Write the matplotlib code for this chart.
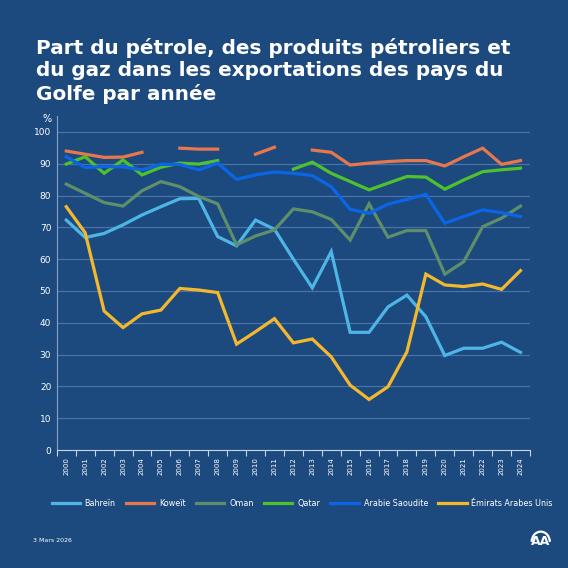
import matplotlib.pyplot as plt
import numpy as np
from matplotlib.patches import Arc

# données (en %)
annees = list(range(2000, 2025))
bahrein = [72.3, 66.8, 68.1, 70.8, 73.9, 76.5, 79.0, 79.1, 67.1, 64.2, 72.3, 69.4,
           60.0, 51.0, 62.4, 37.0, 37.0, 45.0, 48.7, 41.9, 29.7, 32.0, 32.0, 33.9, 30.7]
koweit = [94.0, 93.0, 92.0, 92.1, 93.6, None, 94.9, 94.6, 94.6, None, 93.0, 95.2,
          None, 94.3, 93.6, 89.6, 90.2, 90.7, 91.0, 91.0, 89.3, 92.2, 94.9, 89.8, 91.0]
oman = [83.6, 80.7, 77.8, 76.7, 81.5, 84.4, 82.8, 79.7, 77.4, 64.5, 67.3, 69.2,
        75.8, 74.9, 72.5, 66.0, 77.4, 66.9, 69.0, 69.0, 55.3, 59.2, 70.2, 72.9, 76.7]
qatar = [89.9, 92.2, 87.0, 91.2, 86.5, 88.9, 90.2, 89.9, 91.0, None, None, None,
         88.3, 90.5, 87.0, 84.4, 81.8, 83.9, 86.0, 85.8, 82.0, 84.9, 87.5, 88.1, 88.6]
arabie = [92.2, 88.8, 89.1, 89.0, 88.1, 89.8, 89.8, 88.1, 90.2, 85.1, 86.5, 87.4,
          87.0, 86.3, 82.8, 75.7, 74.4, 77.3, 78.8, 80.4, 71.3, 73.4, 75.5, 74.6, 73.4]
emirats = [76.5, 68.3, 43.7, 38.5, 42.8, 44.0, 50.8, 50.3, 49.5, 33.3, 37.2, 41.3,
           33.7, 34.9, 29.3, 20.4, 15.9, 19.9, 30.9, 55.3, 51.9, 51.4, 52.2, 50.5, 56.4]

series = [
    ("Bahreïn", bahrein, "#4db6e6"),
    ("Koweït", koweit, "#e8774b"),
    ("Oman", oman, "#5e8e6a"),
    ("Qatar", qatar, "#4ec12d"),
    ("Arabie Saoudite", arabie, "#0a66e6"),
    ("Émirats Arabes Unis", emirats, "#f4b82c"),
]

fond = "#1d4a7e"
grille = "#4a72a6"

fig = plt.figure(figsize=(5.68, 5.68), dpi=100, facecolor=fond)
ax = fig.add_axes([0.1, 0.2077, 0.833, 0.588])
ax.set_facecolor(fond)

x = np.arange(len(annees))
for nom, vals, couleur in series:
    y = np.array([np.nan if v is None else v for v in vals])
    ax.plot(x, y, color=couleur, lw=2.3, label=nom, solid_joinstyle="miter")

ax.set_xlim(-0.5, 24.5)
ax.set_ylim(0, 105)
ax.set_yticks(range(0, 101, 10))
ax.yaxis.grid(True, color=grille, lw=0.9)
ax.set_axisbelow(True)
for s in ["top", "right"]:
    ax.spines[s].set_visible(False)
ax.spines["left"].set_color("#8aa3c4")
ax.spines["left"].set_linewidth(0.8)
ax.spines["bottom"].set_color("#c8d4e4")
ax.spines["bottom"].set_linewidth(0.8)

ax.tick_params(axis="y", length=0, pad=4, labelsize=6.5, labelcolor="white")
ax.set_xticks(x)
ax.set_xticklabels([str(a) for a in annees], rotation=90, fontsize=5,
                   color="white")
ax.tick_params(axis="x", length=0, pad=5)
ax.set_xticks(np.arange(-0.5, 25, 1), minor=True)
ax.tick_params(axis="x", which="minor", length=4, color="#c8d4e4", width=0.8)

fig.text(0.075, 0.785, "%", color="white", fontsize=7)

fig.text(0.063, 0.933,
         "Part du pétrole, des produits pétroliers et\n"
         "du gaz dans les exportations des pays du\n"
         "Golfe par année",
         color="white", fontsize=14.4, fontweight="bold", va="top",
         linespacing=1.22)

fig.legend(loc="center", bbox_to_anchor=(0.532, 0.113), ncol=6, frameon=False,
           fontsize=5.8, labelcolor="white", handlelength=3.5,
           handletextpad=0.6, columnspacing=1.3)

fig.text(0.058, 0.046, "3 Mars 2026", color="white", fontsize=4.5)

# logo AA
fig.text(0.952, 0.036, "AA", color="white", fontsize=9, fontweight="bold",
         ha="center", va="bottom")
arc = Arc((0.952, 0.046), 0.032, 0.036, theta1=0, theta2=180, color="white",
          lw=1.6, transform=fig.transFigure)
fig.add_artist(arc)

fig.savefig("out.png", dpi=100, facecolor=fond)
